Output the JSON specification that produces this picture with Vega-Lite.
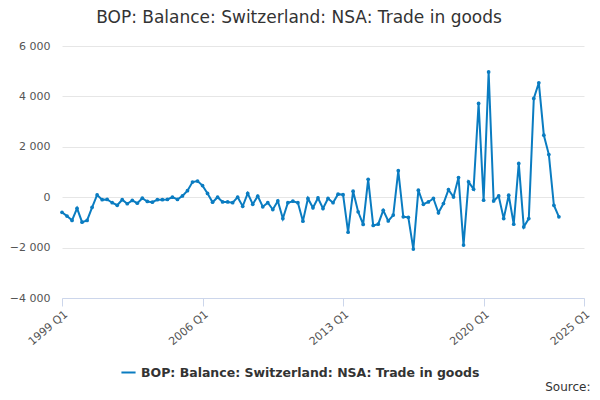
{
  "$schema": "https://vega.github.io/schema/vega-lite/v6.json",
  "width": 522,
  "height": 252,
  "autosize": {"type": "none"},
  "padding": {"left": 62, "top": 46, "right": 16, "bottom": 102},
  "title": {"text": "BOP: Balance: Switzerland: NSA: Trade in goods", "fontSize": 17, "font": "DejaVu Sans", "fontWeight": "normal", "color": "#333333", "offset": 13, "anchor": "middle", "dx": -24},
  "config": {"view": {"stroke": null}, "font": "DejaVu Sans"},
  "data": {"values": [
    {"q": 0, "v": -600}, {"q": 1, "v": -750}, {"q": 2, "v": -920}, {"q": 3, "v": -440}, {"q": 4, "v": -990},
    {"q": 5, "v": -920}, {"q": 6, "v": -400}, {"q": 7, "v": 90}, {"q": 8, "v": -100}, {"q": 9, "v": -90},
    {"q": 10, "v": -220}, {"q": 11, "v": -320}, {"q": 12, "v": -100}, {"q": 13, "v": -260}, {"q": 14, "v": -130},
    {"q": 15, "v": -240}, {"q": 16, "v": -40}, {"q": 17, "v": -170}, {"q": 18, "v": -200}, {"q": 19, "v": -100},
    {"q": 20, "v": -100}, {"q": 21, "v": -90}, {"q": 22, "v": 0}, {"q": 23, "v": -90}, {"q": 24, "v": 50},
    {"q": 25, "v": 260}, {"q": 26, "v": 600}, {"q": 27, "v": 640}, {"q": 28, "v": 460}, {"q": 29, "v": 150},
    {"q": 30, "v": -200}, {"q": 31, "v": 0}, {"q": 32, "v": -190}, {"q": 33, "v": -190}, {"q": 34, "v": -220},
    {"q": 35, "v": 0}, {"q": 36, "v": -360}, {"q": 37, "v": 150}, {"q": 38, "v": -280}, {"q": 39, "v": 40},
    {"q": 40, "v": -380}, {"q": 41, "v": -220}, {"q": 42, "v": -490}, {"q": 43, "v": -150}, {"q": 44, "v": -850},
    {"q": 45, "v": -220}, {"q": 46, "v": -160}, {"q": 47, "v": -220}, {"q": 48, "v": -950}, {"q": 49, "v": -50},
    {"q": 50, "v": -420}, {"q": 51, "v": -30}, {"q": 52, "v": -450}, {"q": 53, "v": -50}, {"q": 54, "v": -220},
    {"q": 55, "v": 120}, {"q": 56, "v": 100}, {"q": 57, "v": -1390}, {"q": 58, "v": 240}, {"q": 59, "v": -580},
    {"q": 60, "v": -1080}, {"q": 61, "v": 710}, {"q": 62, "v": -1120}, {"q": 63, "v": -1070}, {"q": 64, "v": -520},
    {"q": 65, "v": -940}, {"q": 66, "v": -710}, {"q": 67, "v": 1050}, {"q": 68, "v": -780}, {"q": 69, "v": -800},
    {"q": 70, "v": -2060}, {"q": 71, "v": 280}, {"q": 72, "v": -280}, {"q": 73, "v": -190}, {"q": 74, "v": -50},
    {"q": 75, "v": -620}, {"q": 76, "v": -250}, {"q": 77, "v": 300}, {"q": 78, "v": 10}, {"q": 79, "v": 780},
    {"q": 80, "v": -1900}, {"q": 81, "v": 610}, {"q": 82, "v": 320}, {"q": 83, "v": 3720}, {"q": 84, "v": -120},
    {"q": 85, "v": 4970}, {"q": 86, "v": -150}, {"q": 87, "v": 50}, {"q": 88, "v": -850}, {"q": 89, "v": 80},
    {"q": 90, "v": -1070}, {"q": 91, "v": 1340}, {"q": 92, "v": -1180}, {"q": 93, "v": -850}, {"q": 94, "v": 3920},
    {"q": 95, "v": 4540}, {"q": 96, "v": 2460}, {"q": 97, "v": 1690}, {"q": 98, "v": -320}, {"q": 99, "v": -780}
  ]},
  "transform": [{"calculate": "'BOP: Balance: Switzerland: NSA: Trade in goods'", "as": "series"}],
  "mark": {"type": "line", "point": {"size": 14, "filled": true}, "strokeWidth": 2},
  "encoding": {
    "x": {"field": "q", "type": "quantitative",
      "scale": {"domain": [0, 104], "nice": false, "zero": false},
      "axis": {"values": [0, 28, 56, 84, 104], "labelExpr": "(1999 + datum.value / 4) + ' Q1'",
        "labelAngle": -40, "labelAlign": "right", "labelBaseline": "top", "labelFontSize": 11, "labelColor": "#555555",
        "grid": false, "domainColor": "#ccd6eb", "tickColor": "#ccd6eb", "tickSize": 8,
        "title": "Source:", "titleAnchor": "end", "titleFontWeight": "normal", "titleFontSize": 12, "titleColor": "#333333", "titleY": 88, "titleX": 528, "titleAlign": "right", "titleBaseline": "middle"}},
    "y": {"field": "v", "type": "quantitative",
      "scale": {"domain": [-4000, 6000], "nice": false},
      "axis": {"values": [-4000, -2000, 0, 2000, 4000, 6000], "labelExpr": "replace(format(datum.value, ','), ',', ' ')",
        "title": null, "domain": false, "ticks": false, "gridColor": "#e6e6e6", "labelFontSize": 11, "labelColor": "#555555", "labelPadding": 12}},
    "color": {"field": "series", "type": "nominal", "scale": {"range": ["#0a7cc1"]},
      "legend": {"orient": "none", "legendX": 58, "legendY": 318, "title": null, "labelFontSize": 12.5, "labelFontWeight": "bold", "labelColor": "#333333", "symbolType": "stroke", "symbolStrokeWidth": 2, "symbolSize": 200, "labelLimit": 500}}
  }
}
